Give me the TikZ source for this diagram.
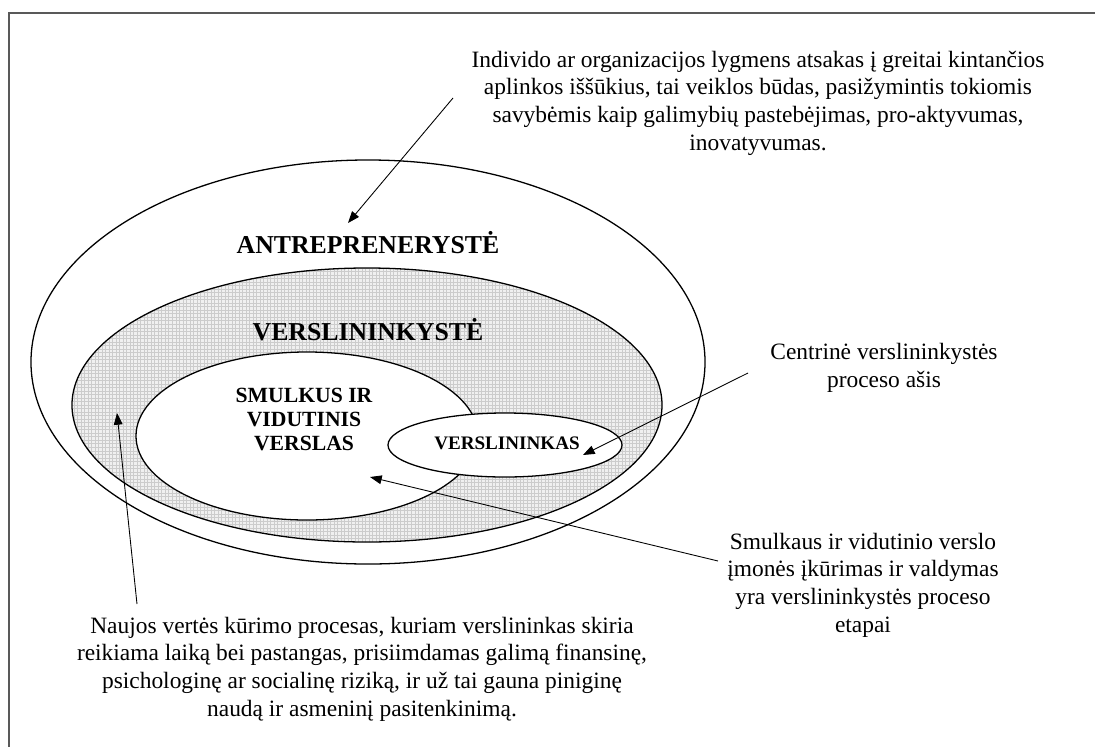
\documentclass[tikz,border=0pt]{standalone}
\usepackage{fontspec}
\setmainfont{Liberation Serif}
\usetikzlibrary{arrows.meta,patterns,shapes.geometric}

\tikzset{
  note/.style={align=center,font=\fontsize{20}{23.6}\selectfont},
  heading/.style={align=center,font=\bfseries\fontsize{22}{25}\selectfont},
  ring/.style={shape=ellipse,draw=black,line width=1.1pt,inner sep=0pt},
  pointer/.style={-{Triangle[length=10pt,width=7.5pt]},line width=0.75pt}
}

\begin{document}
\begin{tikzpicture}[x=0.03cm,y=-0.03cm]
    \useasboundingbox (0,0) rectangle (1095,746);
    \draw[black!65,line width=1.2pt] (9,760) -- (9,13) -- (1110,13);

    % ellipses, from outside in
    \node[ring,fill=white,minimum width=20.22cm,minimum height=12.12cm] (antr) at (368,362) {};
    \node[ring,preaction={fill=black!6},pattern=grid,pattern color=black!20,
          minimum width=17.7cm,minimum height=8.22cm] (versl) at (367,405) {};
    \node[ring,fill=white,minimum width=10.26cm,minimum height=5.04cm] (svv) at (307,436) {};
    \node[ring,fill=white,minimum width=7.02cm,minimum height=1.92cm] (vrs) at (505,445) {};

    \node[heading] (antrtxt) at (368,243) {ANTREPRENERYSTĖ};
    \node[heading] (versltxt) at (368,330) {VERSLININKYSTĖ};
    \node[heading,font=\bfseries\fontsize{18.5}{20.5}\selectfont] (svvtxt) at (304,419) {SMULKUS IR\\VIDUTINIS\\VERSLAS};
    \node[heading,font=\bfseries\fontsize{16.3}{18}\selectfont] (vrstxt) at (507,443) {VERSLININKAS};

    % notes
    \node[note] (topnote) at (758,103) {Individo ar organizacijos lygmens atsakas į greitai kintančios\\
        aplinkos iššūkius, tai veiklos būdas, pasižymintis tokiomis\\
        savybėmis kaip galimybių pastebėjimas, pro-aktyvumas,\\
        inovatyvumas.};
    \node[note] (ashnote) at (884,368) {Centrinė verslininkystės\\proceso ašis};
    \node[note] (etapnote) at (863,585) {Smulkaus ir vidutinio verslo\\
        įmonės įkūrimas ir valdymas\\
        yra verslininkystės proceso\\
        etapai};
    \node[note] (naujnote) at (362,669) {Naujos vertės kūrimo procesas, kuriam verslininkas skiria\\
        reikiama laiką bei pastangas, prisiimdamas galimą finansinę,\\
        psichologinę ar socialinę riziką, ir už tai gauna piniginę\\
        naudą ir asmeninį pasitenkinimą.};

    % arrows
    \coordinate (p1) at (453,98);   \coordinate (q1) at (348,223);
    \coordinate (p2) at (748,373);  \coordinate (q2) at (583,455);
    \coordinate (p3) at (718,561);  \coordinate (q3) at (370,477);
    \coordinate (p4) at (137,604);  \coordinate (q4) at (117,413);
    \draw[pointer] (p1) -- (q1);
    \draw[pointer] (p2) -- (q2);
    \draw[pointer] (p3) -- (q3);
    \draw[pointer] (p4) -- (q4);
\end{tikzpicture}
\end{document}
